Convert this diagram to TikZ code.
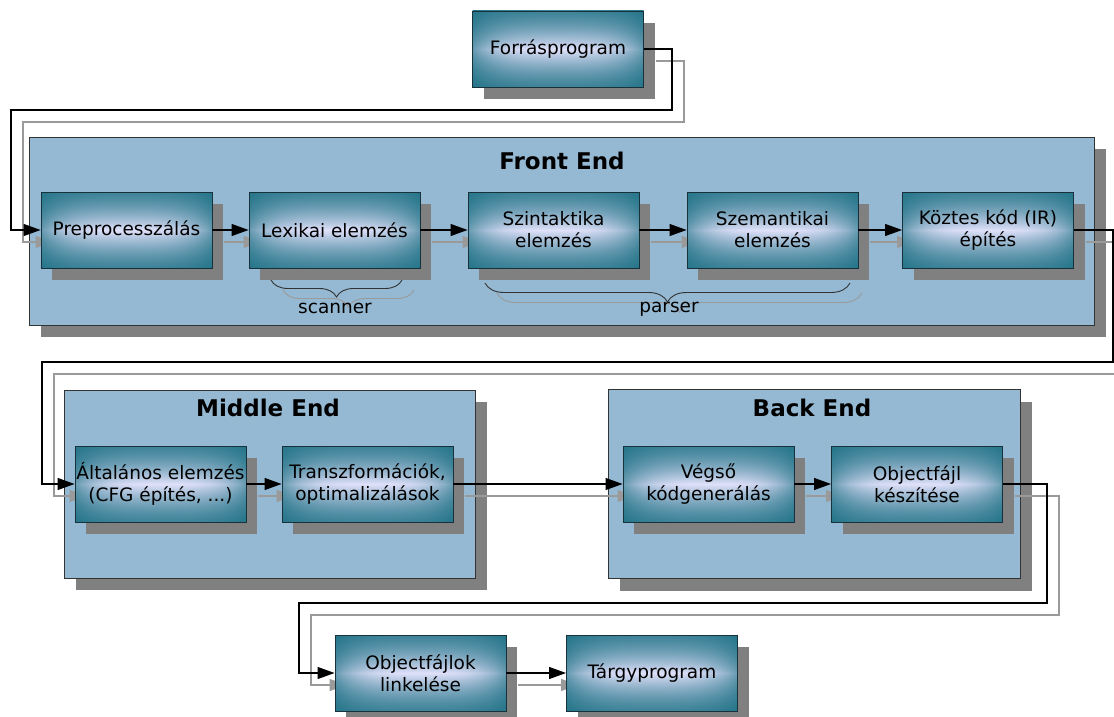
\documentclass[tikz,border=0pt]{standalone}
\usepackage{fontspec}
\setmainfont{DejaVu Sans}
\usetikzlibrary{arrows.meta,shadows,decorations.pathreplacing}

\definecolor{panelblue}{HTML}{95B9D3}
\definecolor{shadowgray}{HTML}{808080}
\definecolor{boxedge}{HTML}{17323A}
\definecolor{wiregray}{HTML}{9A9A9A}

% teal box with a bright horizontal band through the middle
\pgfdeclarefunctionalshading{boxshade}{\pgfpoint{0bp}{0bp}}{\pgfpoint{100bp}{100bp}}{}{
  50 sub 25 div abs 1 exch sub dup dup mul add 0.4 mul 0.2 add
  exch 50 sub 25 div abs dup dup mul mul 0.6 mul 1 exch sub
  mul
  dup 0.80 mul 0.08 add exch
  dup 0.46 mul 0.42 add exch
  0.48 mul 0.50 add
}

\pgfdeclarelayer{panels}
\pgfdeclarelayer{wireshadow}
\pgfsetlayers{panels,wireshadow,main}

\tikzset{
  stage/.style={draw=boxedge, line width=0.9pt, shade, shading=boxshade,
    minimum width=171pt, minimum height=76pt, inner sep=0pt, align=center,
    font=\fontsize{18.5}{22}\selectfont,
    drop shadow={shadow xshift=11pt, shadow yshift=-12pt, fill=shadowgray, opacity=1}},
  panel/.style={draw=black!80, line width=0.9pt, fill=panelblue, inner sep=0pt,
    drop shadow={shadow xshift=12pt, shadow yshift=-12pt, fill=shadowgray, opacity=1}},
  paneltitle/.style={font=\fontsize{23}{27}\selectfont\bfseries},
  caption/.style={font=\fontsize{18.5}{22}\selectfont},
  wire/.style={line width=1.1pt, -{Triangle[length=17pt,width=12pt]}},
  wireshade/.style={wire, draw=wiregray},
  curly/.style={decorate, decoration={brace, amplitude=#1}, line width=0.9pt},
}

\begin{document}
\begin{tikzpicture}[x=1pt, y=-1pt]
\useasboundingbox (0,0) rectangle (1114,717);

% stages
\node[stage] (forras) at (558,49) {Forrásprogram};

\node[stage] (pre)  at (126.5,230) {Preprocesszálás};
\node[stage] (lex)  at (334.5,230) {Lexikai elemzés};
\node[stage] (szin) at (553.5,230) {Szintaktika\\elemzés};
\node[stage] (szem) at (772.5,230) {Szemantikai\\elemzés};
\node[stage] (kozt) at (988,230) {Köztes kód (IR)\\építés};

\node[stage] (alt)   at (160.5,484) {Általános elemzés\\(CFG építés, ...)};
\node[stage] (trans) at (367.5,484) {Transzformációk,\\optimalizálások};
\node[stage] (vegso) at (708.5,484) {Végső\\kódgenerálás};
\node[stage] (objk)  at (917,484) {Objectfájl\\készítése};

\node[stage] (objl)  at (420.5,673) {Objectfájlok\\linkelése};
\node[stage] (targy) at (652,673) {Tárgyprogram};

% panel titles
\node[paneltitle] (fetitle) at (562,161) {Front End};
\node[paneltitle] (metitle) at (268,408) {Middle End};
\node[paneltitle] (betitle) at (812,408) {Back End};

% brace labels
\node[caption] (scanlbl)  at (335,308) {scanner};
\node[caption] (parselbl) at (669,309) {parser};

% panels
\begin{pgfonlayer}{panels}
  \node[panel, minimum width=1065pt, minimum height=188pt] (front)  at (561.5,231) {};
  \node[panel, minimum width=411pt,  minimum height=188pt] (middle) at (269.5,484) {};
  \node[panel, minimum width=412pt,  minimum height=189pt] (back)   at (814,484) {};
\end{pgfonlayer}

% bend points of the long connectors and brace ends
\coordinate (r1) at (672,110);  \coordinate (l1) at (11,110);
\coordinate (r2) at (1113,362); \coordinate (l2) at (42,362);
\coordinate (r3) at (1047,603); \coordinate (l3) at (299,603);
\coordinate (scanR)  at (402,280); \coordinate (scanL)  at (271,280);
\coordinate (parseR) at (850,283); \coordinate (parseL) at (485,283);

% connector shadows
\begin{pgfonlayer}{wireshadow}
\begin{scope}[transform canvas={shift={(12,12)}}]
  \draw[wireshade] (forras.east) -| (r1) -- (l1) |- (pre.west);
  \draw[wireshade] (pre) -- (lex);
  \draw[wireshade] (lex) -- (szin);
  \draw[wireshade] (szin) -- (szem);
  \draw[wireshade] (szem) -- (kozt);
  \draw[wireshade] (kozt.east) -| (r2) -- (l2) |- (alt.west);
  \draw[wireshade] (alt) -- (trans);
  \draw[wireshade] (trans) -- (vegso);
  \draw[wireshade] (vegso) -- (objk);
  \draw[wireshade] (objk.east) -| (r3) -- (l3) |- (objl.west);
  \draw[wireshade] (objl) -- (targy);
\end{scope}
\begin{scope}[transform canvas={shift={(12,10)}}]
  \draw[curly=17pt, draw=wiregray] (scanR) -- (scanL);
  \draw[curly=19pt, draw=wiregray] (parseR) -- (parseL);
\end{scope}
\end{pgfonlayer}

% connectors
\draw[wire] (forras.east) -| (r1) -- (l1) |- (pre.west);
\draw[wire] (pre) -- (lex);
\draw[wire] (lex) -- (szin);
\draw[wire] (szin) -- (szem);
\draw[wire] (szem) -- (kozt);
\draw[wire] (kozt.east) -| (r2) -- (l2) |- (alt.west);
\draw[wire] (alt) -- (trans);
\draw[wire] (trans) -- (vegso);
\draw[wire] (vegso) -- (objk);
\draw[wire] (objk.east) -| (r3) -- (l3) |- (objl.west);
\draw[wire] (objl) -- (targy);

% braces
\draw[curly=17pt, draw=black!80] (scanR) -- (scanL);
\draw[curly=19pt, draw=black!80] (parseR) -- (parseL);
\end{tikzpicture}
\end{document}
